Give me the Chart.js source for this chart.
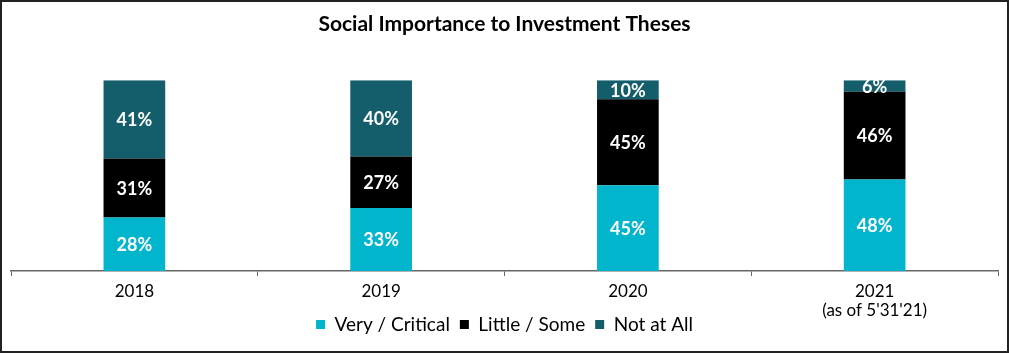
<!DOCTYPE html>
<html lang="en">
  <head>
    <meta charset="UTF-8" />
    <title>Social Importance to Investment Theses</title>
    <style>
      html, body { margin: 0; padding: 0; background: #fff; }
      #frame {
        width: 1009px;
        height: 353px;
        box-sizing: border-box;
        border: 2px solid #222;
        position: relative;
      }
      #chartBox { width: 1005px; height: 349px; position: relative; }
    </style>
  </head>
  <body>
    <div id="frame">
      <div id="chartBox"><canvas id="myChart"></canvas></div>
    </div>

    <script src="https://cdn.jsdelivr.net/npm/chart.js"></script>
    <script>
      const years = ["2018", "2019", "2020", ["2021", "(as of 5'31'21)"]];
      const veryCritical = [28, 33, 45, 48];
      const littleSome = [31, 27, 45, 46];
      const notAtAll = [41, 40, 10, 6];

      Chart.defaults.font.family = "Lato, 'Noto Sans', sans-serif";
      Chart.defaults.color = "#000";

      // white % labels in the middle of each segment
      const segmentLabels = {
        id: "segmentLabels",
        afterDatasetsDraw(chart) {
          const ctx = chart.ctx;
          ctx.save();
          ctx.fillStyle = "#fff";
          ctx.font = "bold 18px Lato, sans-serif";
          ctx.textAlign = "center";
          ctx.textBaseline = "middle";
          chart.data.datasets.forEach((ds, i) => {
            chart.getDatasetMeta(i).data.forEach((bar, j) => {
              const mid = (bar.y + bar.base) / 2;
              ctx.fillText(ds.data[j] + "%", bar.x, mid + 1);
            });
          });
          ctx.restore();
        },
      };

      new Chart(document.getElementById("myChart"), {
        type: "bar",
        data: {
          labels: years,
          datasets: [
            { label: "Very / Critical", data: veryCritical, backgroundColor: "#00B5CC" },
            { label: "Little / Some", data: littleSome, backgroundColor: "#000000" },
            { label: "Not at All", data: notAtAll, backgroundColor: "#135E6A" },
          ],
        },
        options: {
          responsive: true,
          maintainAspectRatio: false,
          animation: false,
          layout: { padding: { left: 9, right: 9, top: 10, bottom: 7 } },
          datasets: {
            bar: { categoryPercentage: 1, barPercentage: 0.25 },
          },
          scales: {
            x: {
              stacked: true,
              grid: { drawOnChartArea: false, drawTicks: true, tickLength: 5, offset: true, color: "#666" },
              border: { color: "#666", width: 1.5 },
              ticks: { font: { size: 17, lineHeight: 1.1 }, padding: 6, maxRotation: 0 },
              afterFit(scale) {
                // axis box is shorter than its two-line label, let the label spill over
                scale.height = 34;
                scale._computeLabelArea = () => undefined;
              },
            },
            y: {
              stacked: true,
              min: 0,
              max: 100,
              display: false,
            },
          },
          plugins: {
            title: {
              display: true,
              text: "Social Importance to Investment Theses",
              font: { size: 21, weight: "bold" },
              padding: { top: 0, bottom: 43 },
            },
            legend: {
              position: "bottom",
              labels: { boxWidth: 9, boxHeight: 9, font: { size: 19 }, padding: 10 },
            },
            tooltip: { enabled: false },
          },
        },
        plugins: [segmentLabels],
      });
    </script>
  </body>
</html>
